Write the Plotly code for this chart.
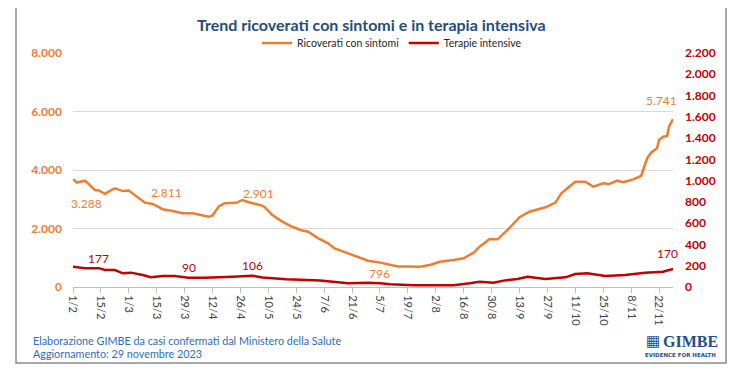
import plotly.graph_objects as go

# ---------------- data ----------------
ric_dates = ["2023-02-01", "2023-02-03", "2023-02-07", "2023-02-12", "2023-02-14", "2023-02-17",
             "2023-02-19", "2023-02-22", "2023-02-26", "2023-03-01", "2023-03-05", "2023-03-09",
             "2023-03-13", "2023-03-18", "2023-03-23", "2023-03-28", "2023-04-02", "2023-04-07",
             "2023-04-10", "2023-04-12", "2023-04-15", "2023-04-18", "2023-04-24", "2023-04-27",
             "2023-05-01", "2023-05-06", "2023-05-08", "2023-05-12", "2023-05-17", "2023-05-22",
             "2023-05-26", "2023-05-30", "2023-06-04", "2023-06-09", "2023-06-12", "2023-06-19",
             "2023-06-24", "2023-06-29", "2023-07-04", "2023-07-07", "2023-07-14", "2023-07-19",
             "2023-07-25", "2023-07-30", "2023-08-04", "2023-08-11", "2023-08-16", "2023-08-21",
             "2023-08-24", "2023-08-29", "2023-09-02", "2023-09-07", "2023-09-10", "2023-09-13",
             "2023-09-18", "2023-09-26", "2023-10-01", "2023-10-04", "2023-10-07", "2023-10-11",
             "2023-10-16", "2023-10-20", "2023-10-25", "2023-10-28", "2023-11-01", "2023-11-04",
             "2023-11-09", "2023-11-13", "2023-11-14", "2023-11-16", "2023-11-18", "2023-11-21",
             "2023-11-22", "2023-11-24", "2023-11-26", "2023-11-27", "2023-11-29"]
ric_values = [3690, 3570, 3635, 3316, 3300, 3180,
              3270, 3375, 3280, 3300, 3090, 2885,
              2840, 2660, 2600, 2520, 2520, 2440,
              2400, 2450, 2745, 2860, 2880, 2975,
              2880, 2800, 2745, 2460, 2235, 2060,
              1950, 1890, 1665, 1495, 1325, 1150,
              1035, 900, 850, 810, 700, 700,
              695, 752, 865, 923, 980, 1175,
              1380, 1640, 1630, 1950, 2180, 2385,
              2575, 2725, 2885, 3200, 3375, 3600,
              3600, 3430, 3545, 3520, 3635, 3580,
              3680, 3795, 4000, 4400, 4590, 4740,
              5025, 5140, 5160, 5480, 5741]

ti_dates = ["2023-02-01", "2023-02-07", "2023-02-14", "2023-02-17", "2023-02-22", "2023-02-26",
            "2023-03-02", "2023-03-08", "2023-03-12", "2023-03-18", "2023-03-24", "2023-03-31",
            "2023-04-08", "2023-04-17", "2023-04-22", "2023-05-02", "2023-05-07", "2023-05-19",
            "2023-06-05", "2023-06-19", "2023-06-29", "2023-07-05", "2023-07-10", "2023-07-22",
            "2023-08-11", "2023-08-19", "2023-08-24", "2023-08-31", "2023-09-05", "2023-09-12",
            "2023-09-17", "2023-09-26", "2023-10-06", "2023-10-11", "2023-10-17", "2023-10-26",
            "2023-11-05", "2023-11-15", "2023-11-24", "2023-11-29"]
ti_values = [191, 176, 177, 160, 160, 129,
             135, 113, 91, 103, 103, 88,
             88, 91, 97, 106, 90, 72,
             60, 35, 40, 35, 25, 16,
             16, 35, 50, 40, 60, 75,
             97, 75, 91, 122, 129, 103,
             113, 135, 144, 170]

tick_dates = ["2023-02-01", "2023-02-15", "2023-03-01", "2023-03-15", "2023-03-29", "2023-04-12",
              "2023-04-26", "2023-05-10", "2023-05-24", "2023-06-07", "2023-06-21", "2023-07-05",
              "2023-07-19", "2023-08-02", "2023-08-16", "2023-08-30", "2023-09-13", "2023-09-27",
              "2023-10-11", "2023-10-25", "2023-11-08", "2023-11-22"]
tick_labels = ["1/2", "15/2", "1/3", "15/3", "29/3", "12/4", "26/4", "10/5", "24/5", "7/6", "21/6",
               "5/7", "19/7", "2/8", "16/8", "30/8", "13/9", "27/9", "11/10", "25/10", "8/11", "22/11"]

# data labels shown on the chart
ric_label_dates = ["2023-02-08", "2023-03-20", "2023-05-05", "2023-07-05", "2023-11-23"]
ric_label_values = [3288, 2811, 2901, 796, 5741]
ric_label_shift = [-13, 12, 9, -10, 19]
ti_label_dates = ["2023-02-14", "2023-03-31", "2023-05-02", "2023-11-26"]
ti_label_values = [177, 90, 106, 170]
ti_label_shift = [10, 10, 10, 15]

ORANGE = "#ED7D31"
RED = "#C00000"
FONT = "Lato"


def it(v):
    return f"{v:,}".replace(",", ".")


# page body has an 8px margin: figure is drawn 8px smaller and all
# window-pixel positions below are converted accordingly
OFF = 8
W, H = 738 - OFF, 375 - OFF
L, T = 73 - OFF, 53 - OFF
R = W - (673 - OFF)
B = H - (287 - OFF)
pw, ph = W - L - R, H - T - B


def px(xw):
    return (xw - OFF - L) / pw


def py(yw):
    return (H - B - (yw - OFF)) / ph


fig = go.Figure()
fig.add_trace(go.Scatter(x=ric_dates, y=ric_values, mode="lines", name="Ricoverati con sintomi",
                         line=dict(color=ORANGE, width=2.5)))
fig.add_trace(go.Scatter(x=ti_dates, y=ti_values, mode="lines", name="Terapie intensive",
                         line=dict(color=RED, width=2.5), yaxis="y2"))

annotations = []
for d, v, s in zip(ric_label_dates, ric_label_values, ric_label_shift):
    annotations.append(dict(x=d, y=v, xref="x", yref="y", text=it(v), showarrow=False, yshift=s,
                            font=dict(family=FONT, size=12, color=ORANGE)))
for d, v, s in zip(ti_label_dates, ti_label_values, ti_label_shift):
    annotations.append(dict(x=d, y=v, xref="x", yref="y2", text=it(v), showarrow=False, yshift=s,
                            font=dict(family=FONT, size=12, color=RED)))

annotations += [
    dict(x=px(31), y=py(340), xref="paper", yref="paper", xanchor="left", yanchor="middle",
         text="Elaborazione GIMBE da casi confermati dal Ministero della Salute", showarrow=False,
         font=dict(family=FONT, size=10.8, color="#2E6DB4")),
    dict(x=px(31), y=py(353), xref="paper", yref="paper", xanchor="left", yanchor="middle",
         text="Aggiornamento: 29 novembre 2023", showarrow=False,
         font=dict(family=FONT, size=10.8, color="#2E6DB4")),
    dict(x=px(371), y=py(25), xref="paper", yref="paper", xanchor="center", yanchor="middle",
         text="<b>Trend ricoverati con sintomi e in terapia intensiva</b>", showarrow=False,
         font=dict(family=FONT, size=16, color="#1F4E79")),
    dict(x=px(653), y=py(341), xref="paper", yref="paper", xanchor="center", yanchor="middle",
         text="▦", showarrow=False, font=dict(family="DejaVu Sans", size=15, color="#1F4E8C")),
    dict(x=px(661), y=py(341), xref="paper", yref="paper", xanchor="left", yanchor="middle",
         text="<b>GIMBE</b>", showarrow=False,
         font=dict(family="Liberation Serif", size=16, color="#1F4E8C")),
    dict(x=px(680), y=py(355), xref="paper", yref="paper", xanchor="center", yanchor="middle",
         text="<b>EVIDENCE FOR HEALTH</b>", showarrow=False,
         font=dict(family="DejaVu Sans", size=5.5, color="#1F4E8C")),
]

fig.update_layout(
    width=W, height=H,
    margin=dict(l=L, r=R, t=T, b=B, pad=0),
    paper_bgcolor="white", plot_bgcolor="white",
    separators=",.",
    font=dict(family=FONT, size=11, color="#404040"),
    showlegend=True,
    legend=dict(orientation="h", x=px(392), y=py(43), xanchor="center", yanchor="middle",
                font=dict(family=FONT, size=10.5, color="#262626"), bgcolor="rgba(0,0,0,0)",
                itemwidth=30, tracegroupgap=0),
    xaxis=dict(type="date", range=["2023-02-01", "2023-11-29"], tickvals=tick_dates,
               ticktext=tick_labels, tickangle=90, showgrid=False, showline=True,
               linecolor="#BFBFBF", linewidth=1, ticks="outside", ticklen=5, tickcolor="#BFBFBF",
               tickfont=dict(family=FONT, size=11, color="#404040"), zeroline=False,
               automargin=False),
    yaxis=dict(range=[0, 8000], dtick=2000, tickformat=",d", showgrid=True, gridcolor="#D9D9D9",
               gridwidth=1, zeroline=False, showline=False, ticks="", ticklabelstandoff=10,
               tickfont=dict(family=FONT, size=12, color=ORANGE, weight="bold"), automargin=False),
    yaxis2=dict(range=[0, 2200], dtick=200, tickformat=",d", overlaying="y", side="right",
                showgrid=False, zeroline=False, showline=False, ticks="", ticklabelstandoff=11,
                tickfont=dict(family=FONT, size=12, color=RED, weight="bold"), automargin=False),
    annotations=annotations,
    shapes=[dict(type="rect", xref="paper", yref="paper", x0=px(16), x1=px(726), y0=py(363),
                 y1=py(6), line=dict(color="#8C8C8C", width=1.5), fillcolor="rgba(0,0,0,0)",
                 layer="below")],
)

fig.write_html("out.html")
